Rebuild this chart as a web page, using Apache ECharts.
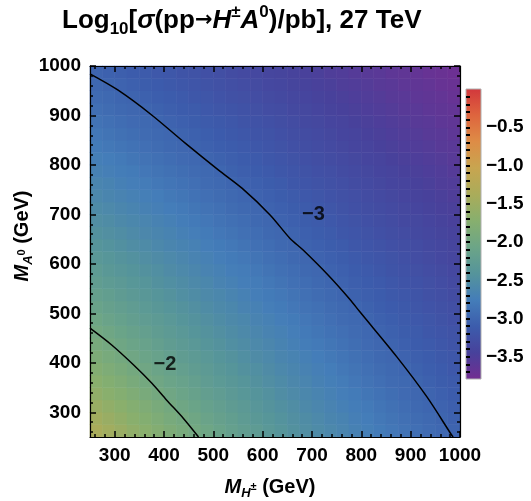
<!DOCTYPE html>
<html><head><meta charset="utf-8">
<script src="https://cdn.jsdelivr.net/npm/echarts@6/dist/echarts.min.js"></script>
<style>html,body{margin:0;padding:0;background:#fff}#c{width:531px;height:501px}</style>
</head><body><div id="c"></div>
<script>
// ---- data ----
const massCenters = [262.5,287.5,312.5,337.5,362.5,387.5,412.5,437.5,462.5,487.5,512.5,537.5,562.5,587.5,612.5,637.5,662.5,687.5,712.5,737.5,762.5,787.5,812.5,837.5,862.5,887.5,912.5,937.5,962.5,987.5];
const xTickLabels = [300,400,500,600,700,800,900,1000];
const yTickLabels = [300,400,500,600,700,800,900,1000];
const minorTicks = [260,280,320,340,360,380,420,440,460,480,520,540,560,580,620,640,660,680,720,740,760,780,820,840,860,880,920,940,960,980];
const colorbarLabels = [-3.5,-3.0,-2.5,-2.0,-1.5,-1.0,-0.5];
const colorbarTicks = [-3.7,-3.6,-3.5,-3.4,-3.3,-3.2,-3.1,-3.0,-2.9,-2.8,-2.7,-2.6,-2.5,-2.4,-2.3,-2.2,-2.1,-2.0,-1.9,-1.8,-1.7,-1.6,-1.5,-1.4,-1.3,-1.2,-1.1,-1.0,-0.9,-0.8,-0.7,-0.6,-0.5,-0.4,-0.3,-0.2,-0.1];
// log10(sigma/pb); rows = M_A0 (bottom to top), columns = M_H+- (left to right)
const logSigmaRows = [
[-1.39,-1.47,-1.55,-1.63,-1.70,-1.78,-1.85,-1.91,-1.98,-2.04,-2.11,-2.17,-2.23,-2.28,-2.34,-2.39,-2.45,-2.50,-2.55,-2.59,-2.64,-2.69,-2.73,-2.78,-2.82,-2.86,-2.90,-2.94,-2.98,-3.02],
[-1.47,-1.55,-1.62,-1.70,-1.77,-1.84,-1.91,-1.97,-2.03,-2.10,-2.16,-2.21,-2.27,-2.33,-2.38,-2.43,-2.48,-2.53,-2.58,-2.63,-2.67,-2.72,-2.76,-2.81,-2.85,-2.89,-2.93,-2.97,-3.01,-3.05],
[-1.55,-1.62,-1.69,-1.76,-1.83,-1.90,-1.96,-2.03,-2.09,-2.15,-2.20,-2.26,-2.31,-2.37,-2.42,-2.47,-2.52,-2.57,-2.62,-2.66,-2.71,-2.75,-2.79,-2.84,-2.88,-2.92,-2.96,-3.00,-3.03,-3.07],
[-1.63,-1.70,-1.76,-1.83,-1.90,-1.96,-2.02,-2.08,-2.14,-2.20,-2.25,-2.31,-2.36,-2.41,-2.46,-2.51,-2.56,-2.61,-2.65,-2.70,-2.74,-2.78,-2.83,-2.87,-2.91,-2.95,-2.99,-3.02,-3.06,-3.10],
[-1.70,-1.77,-1.83,-1.90,-1.96,-2.02,-2.08,-2.13,-2.19,-2.25,-2.30,-2.35,-2.40,-2.45,-2.50,-2.55,-2.60,-2.64,-2.69,-2.73,-2.77,-2.82,-2.86,-2.90,-2.94,-2.97,-3.01,-3.05,-3.09,-3.12],
[-1.78,-1.84,-1.90,-1.96,-2.02,-2.08,-2.13,-2.19,-2.24,-2.29,-2.35,-2.40,-2.45,-2.49,-2.54,-2.59,-2.63,-2.68,-2.72,-2.76,-2.81,-2.85,-2.89,-2.93,-2.97,-3.00,-3.04,-3.08,-3.11,-3.15],
[-1.85,-1.91,-1.96,-2.02,-2.08,-2.13,-2.19,-2.24,-2.29,-2.34,-2.39,-2.44,-2.49,-2.54,-2.58,-2.63,-2.67,-2.71,-2.76,-2.80,-2.84,-2.88,-2.92,-2.96,-2.99,-3.03,-3.07,-3.10,-3.14,-3.17],
[-1.91,-1.97,-2.03,-2.08,-2.13,-2.19,-2.24,-2.29,-2.34,-2.39,-2.44,-2.49,-2.53,-2.58,-2.62,-2.67,-2.71,-2.75,-2.79,-2.83,-2.87,-2.91,-2.95,-2.99,-3.02,-3.06,-3.10,-3.13,-3.16,-3.20],
[-1.98,-2.03,-2.09,-2.14,-2.19,-2.24,-2.29,-2.34,-2.39,-2.44,-2.48,-2.53,-2.57,-2.62,-2.66,-2.70,-2.74,-2.79,-2.83,-2.87,-2.90,-2.94,-2.98,-3.02,-3.05,-3.09,-3.12,-3.16,-3.19,-3.22],
[-2.04,-2.10,-2.15,-2.20,-2.25,-2.29,-2.34,-2.39,-2.44,-2.48,-2.53,-2.57,-2.61,-2.66,-2.70,-2.74,-2.78,-2.82,-2.86,-2.90,-2.94,-2.97,-3.01,-3.05,-3.08,-3.12,-3.15,-3.18,-3.22,-3.25],
[-2.11,-2.16,-2.20,-2.25,-2.30,-2.35,-2.39,-2.44,-2.48,-2.53,-2.57,-2.61,-2.66,-2.70,-2.74,-2.78,-2.82,-2.86,-2.89,-2.93,-2.97,-3.00,-3.04,-3.08,-3.11,-3.14,-3.18,-3.21,-3.24,-3.27],
[-2.17,-2.21,-2.26,-2.31,-2.35,-2.40,-2.44,-2.49,-2.53,-2.57,-2.61,-2.65,-2.70,-2.74,-2.78,-2.81,-2.85,-2.89,-2.93,-2.96,-3.00,-3.04,-3.07,-3.10,-3.14,-3.17,-3.20,-3.24,-3.27,-3.30],
[-2.23,-2.27,-2.31,-2.36,-2.40,-2.45,-2.49,-2.53,-2.57,-2.61,-2.66,-2.70,-2.74,-2.77,-2.81,-2.85,-2.89,-2.92,-2.96,-3.00,-3.03,-3.07,-3.10,-3.13,-3.17,-3.20,-3.23,-3.26,-3.29,-3.33],
[-2.28,-2.33,-2.37,-2.41,-2.45,-2.49,-2.54,-2.58,-2.62,-2.66,-2.70,-2.74,-2.77,-2.81,-2.85,-2.89,-2.92,-2.96,-2.99,-3.03,-3.06,-3.10,-3.13,-3.16,-3.20,-3.23,-3.26,-3.29,-3.32,-3.35],
[-2.34,-2.38,-2.42,-2.46,-2.50,-2.54,-2.58,-2.62,-2.66,-2.70,-2.74,-2.78,-2.81,-2.85,-2.89,-2.92,-2.96,-2.99,-3.03,-3.06,-3.09,-3.13,-3.16,-3.19,-3.22,-3.25,-3.29,-3.32,-3.35,-3.38],
[-2.39,-2.43,-2.47,-2.51,-2.55,-2.59,-2.63,-2.67,-2.70,-2.74,-2.78,-2.81,-2.85,-2.89,-2.92,-2.96,-2.99,-3.03,-3.06,-3.09,-3.12,-3.16,-3.19,-3.22,-3.25,-3.28,-3.31,-3.34,-3.37,-3.40],
[-2.45,-2.48,-2.52,-2.56,-2.60,-2.63,-2.67,-2.71,-2.74,-2.78,-2.82,-2.85,-2.89,-2.92,-2.96,-2.99,-3.02,-3.06,-3.09,-3.12,-3.16,-3.19,-3.22,-3.25,-3.28,-3.31,-3.34,-3.37,-3.40,-3.42],
[-2.50,-2.53,-2.57,-2.61,-2.64,-2.68,-2.71,-2.75,-2.79,-2.82,-2.86,-2.89,-2.92,-2.96,-2.99,-3.03,-3.06,-3.09,-3.12,-3.15,-3.19,-3.22,-3.25,-3.28,-3.31,-3.34,-3.36,-3.39,-3.42,-3.45],
[-2.55,-2.58,-2.62,-2.65,-2.69,-2.72,-2.76,-2.79,-2.83,-2.86,-2.89,-2.93,-2.96,-2.99,-3.03,-3.06,-3.09,-3.12,-3.15,-3.18,-3.22,-3.25,-3.28,-3.30,-3.33,-3.36,-3.39,-3.42,-3.45,-3.47],
[-2.59,-2.63,-2.66,-2.70,-2.73,-2.76,-2.80,-2.83,-2.87,-2.90,-2.93,-2.96,-3.00,-3.03,-3.06,-3.09,-3.12,-3.15,-3.18,-3.21,-3.24,-3.27,-3.30,-3.33,-3.36,-3.39,-3.42,-3.44,-3.47,-3.50],
[-2.64,-2.67,-2.71,-2.74,-2.77,-2.81,-2.84,-2.87,-2.90,-2.94,-2.97,-3.00,-3.03,-3.06,-3.09,-3.12,-3.16,-3.19,-3.22,-3.24,-3.27,-3.30,-3.33,-3.36,-3.39,-3.41,-3.44,-3.47,-3.50,-3.52],
[-2.69,-2.72,-2.75,-2.78,-2.82,-2.85,-2.88,-2.91,-2.94,-2.97,-3.00,-3.04,-3.07,-3.10,-3.13,-3.16,-3.19,-3.22,-3.25,-3.27,-3.30,-3.33,-3.36,-3.39,-3.41,-3.44,-3.47,-3.49,-3.52,-3.55],
[-2.73,-2.76,-2.79,-2.83,-2.86,-2.89,-2.92,-2.95,-2.98,-3.01,-3.04,-3.07,-3.10,-3.13,-3.16,-3.19,-3.22,-3.25,-3.28,-3.30,-3.33,-3.36,-3.39,-3.41,-3.44,-3.47,-3.49,-3.52,-3.54,-3.57],
[-2.78,-2.81,-2.84,-2.87,-2.90,-2.93,-2.96,-2.99,-3.02,-3.05,-3.08,-3.10,-3.13,-3.16,-3.19,-3.22,-3.25,-3.28,-3.30,-3.33,-3.36,-3.39,-3.41,-3.44,-3.47,-3.49,-3.52,-3.54,-3.57,-3.59],
[-2.82,-2.85,-2.88,-2.91,-2.94,-2.97,-2.99,-3.02,-3.05,-3.08,-3.11,-3.14,-3.17,-3.20,-3.22,-3.25,-3.28,-3.31,-3.33,-3.36,-3.39,-3.41,-3.44,-3.47,-3.49,-3.52,-3.54,-3.57,-3.59,-3.62],
[-2.86,-2.89,-2.92,-2.95,-2.97,-3.00,-3.03,-3.06,-3.09,-3.12,-3.14,-3.17,-3.20,-3.23,-3.25,-3.28,-3.31,-3.34,-3.36,-3.39,-3.41,-3.44,-3.47,-3.49,-3.52,-3.54,-3.57,-3.59,-3.62,-3.64],
[-2.90,-2.93,-2.96,-2.99,-3.01,-3.04,-3.07,-3.10,-3.12,-3.15,-3.18,-3.20,-3.23,-3.26,-3.29,-3.31,-3.34,-3.36,-3.39,-3.42,-3.44,-3.47,-3.49,-3.52,-3.54,-3.57,-3.59,-3.62,-3.64,-3.66],
[-2.94,-2.97,-3.00,-3.02,-3.05,-3.08,-3.10,-3.13,-3.16,-3.18,-3.21,-3.24,-3.26,-3.29,-3.32,-3.34,-3.37,-3.39,-3.42,-3.44,-3.47,-3.49,-3.52,-3.54,-3.57,-3.59,-3.62,-3.64,-3.66,-3.69],
[-2.98,-3.01,-3.03,-3.06,-3.09,-3.11,-3.14,-3.16,-3.19,-3.22,-3.24,-3.27,-3.29,-3.32,-3.35,-3.37,-3.40,-3.42,-3.45,-3.47,-3.50,-3.52,-3.54,-3.57,-3.59,-3.62,-3.64,-3.66,-3.69,-3.71],
[-3.02,-3.05,-3.07,-3.10,-3.12,-3.15,-3.17,-3.20,-3.22,-3.25,-3.27,-3.30,-3.33,-3.35,-3.38,-3.40,-3.42,-3.45,-3.47,-3.50,-3.52,-3.55,-3.57,-3.59,-3.62,-3.64,-3.66,-3.69,-3.71,-3.73]
];
const contourMinus2 = [[250,470],[294,436],[338,396],[375,359],[405,325],[439,288],[470,250]];
const contourMinus3 = [[250,984],[307,951],[375,901],[443,844],[510,790],[558,753],[615,699],[655,652],[682,628],[733,577],[777,528],[797,503],[872,412],[933,331],[983,254],[986,250]];
const contourLabels = [{name:'\u22122', value:[402,396]}, {name:'\u22123', value:[703,699]}];
const colorMin = -3.79, colorMax = 0;
const palette = ['#732d91','#48419b','#3c5cac','#447db9','#55949b','#6ca587','#87af6e','#aaac5a','#c8a550','#de8c46','#de643e','#d2373c'];

// ---- build ----
const FONT = "'Liberation Sans', Arial, sans-serif";
const heatData = [];
logSigmaRows.forEach((row, j) => row.forEach((v, i) => heatData.push([i, j, v])));
const stops = palette.map((c, k) => ({offset: 1 - k / (palette.length - 1), color: c}));

const lbl = {color:'#000', fontFamily: FONT, fontWeight:'bold', fontSize:19};
function frameAxis(pos, grid, showLabels, ticks, len, lineShow, customLabels) {
  return {
    type:'value', gridIndex: grid, position: pos, min:250, max:1000, z:10,
    axisLine:{show: lineShow, onZero:false, lineStyle:{color:'#000', width:1.2}},
    axisTick:{show:true, inside:true, length:len, customValues: ticks, lineStyle:{color:'#000', width:1.5}},
    axisLabel: showLabels ? Object.assign({show:true, margin:9, customValues: customLabels, formatter: v => String(v)}, lbl) : {show:false},
    splitLine:{show:false}
  };
}
const nameRich = {
  mi:{fontFamily:FONT, fontWeight:'bold', fontStyle:'italic', fontSize:20, fill:'#000', lineHeight:26, verticalAlign:'middle'},
  sub:{fontFamily:FONT, fontWeight:'bold', fontStyle:'italic', fontSize:13, fill:'#000', lineHeight:16, verticalAlign:'bottom'},
  sup2:{fontFamily:FONT, fontWeight:'bold', fontSize:11, fill:'#000', lineHeight:22, verticalAlign:'middle'},
  b:{fontFamily:FONT, fontWeight:'bold', fontSize:20, fill:'#000', lineHeight:26, verticalAlign:'middle'}
};

const option = {
  animation:false,
  backgroundColor:'#fff',
  title:{
    left:62, top:4, padding:0,
    text:'{b|Log}{sub|10}{b|[}{bi|\u03c3}{b|(pp}{ar|\u2192}{bi|H}{sup|\u00b1}{bi|A}{sup|0}{b|)/pb], 27 TeV}',
    textStyle:{rich:{
      b:{fontFamily:FONT, fontWeight:'bold', fontSize:26, color:'#000', lineHeight:34, verticalAlign:'middle'},
      bi:{fontFamily:FONT, fontWeight:'bold', fontStyle:'italic', fontSize:26, color:'#000', lineHeight:34, verticalAlign:'middle'},
      ar:{fontFamily:"'DejaVu Sans'", fontWeight:'bold', fontSize:21, color:'#000', lineHeight:34, verticalAlign:'middle'},
      sub:{fontFamily:FONT, fontWeight:'bold', fontSize:17, color:'#000', lineHeight:15, verticalAlign:'bottom'},
      sup:{fontFamily:FONT, fontWeight:'bold', fontSize:17, color:'#000', lineHeight:21, verticalAlign:'top'}
    }}
  },
  grid:[
    {left:90, top:66, width:370, height:371},
    {left:90, top:66, width:370, height:371},
    {left:90, top:66, width:370, height:371},
    {left:466, top:89, width:15, height:290}
  ],
  xAxis:[
    {type:'category', gridIndex:0, data:massCenters.map(String), show:false},
    frameAxis('bottom', 1, true, xTickLabels, 6, true, xTickLabels),
    frameAxis('top', 1, false, xTickLabels, 6, true),
    frameAxis('bottom', 2, false, minorTicks, 3, false),
    frameAxis('top', 2, false, minorTicks, 3, false),
    {type:'value', gridIndex:3, show:false, min:0, max:1}
  ],
  yAxis:[
    {type:'category', gridIndex:0, data:massCenters.map(String), show:false},
    frameAxis('left', 1, true, yTickLabels, 6, true, yTickLabels),
    frameAxis('right', 1, false, yTickLabels, 6, true),
    frameAxis('left', 2, false, minorTicks, 3, false),
    frameAxis('right', 2, false, minorTicks, 3, false),
    {type:'value', gridIndex:3, position:'right', min:colorMin, max:colorMax, z:10,
     axisLine:{show:false}, splitLine:{show:false},
     axisTick:{show:true, inside:false, length:4, customValues:colorbarTicks, lineStyle:{color:'#000', width:2}},
     axisLabel:Object.assign({show:true, margin:5, customValues:colorbarLabels,
        formatter:v => '\u2212' + Math.abs(v).toFixed(1)}, lbl)}
  ],
  visualMap:{type:'continuous', show:false, min:colorMin, max:colorMax, dimension:2, seriesIndex:0,
    inRange:{color:palette}},
  graphic:[
    {type:'rect', shape:{x:466, y:89, width:15, height:290}, z:10,
      style:{fill:new echarts.graphic.LinearGradient(0,0,0,1, stops), stroke:'#b0b0b0', lineWidth:1}},
    {type:'text', x:270, y:487, z:10,
      style:{text:'{mi|M}{sub|H}{sup2|\u00b1}{b| (GeV)}', rich:nameRich, align:'center', verticalAlign:'middle'}},
    {type:'text', x:22, y:236, rotation:Math.PI/2, z:10,
      style:{text:'{mi|M}{sub|A}{sup2|0}{b| (GeV)}', rich:nameRich, align:'center', verticalAlign:'middle'}}
  ],
  series:[
    {type:'heatmap', xAxisIndex:0, yAxisIndex:0, data:heatData, itemStyle:{borderWidth:0}, emphasis:{disabled:true}},
    {type:'line', xAxisIndex:1, yAxisIndex:1, data:contourMinus2, showSymbol:false, smooth:0.3,
      lineStyle:{color:'#000', width:1.5}, z:5},
    {type:'line', xAxisIndex:1, yAxisIndex:1, data:contourMinus3, showSymbol:false, smooth:0.3,
      lineStyle:{color:'#000', width:1.5}, z:5},
    {type:'scatter', xAxisIndex:1, yAxisIndex:1, data:contourLabels, symbolSize:2, itemStyle:{color:'rgba(0,0,0,0)'}, z:6,
      label:{show:true, position:'inside', formatter:p => p.name, color:'#000', fontFamily:FONT, fontWeight:'bold', fontSize:20}}
  ]
};
const chart = echarts.init(document.getElementById('c'), null, {renderer:'canvas'});
chart.setOption(option);
</script></body></html>
